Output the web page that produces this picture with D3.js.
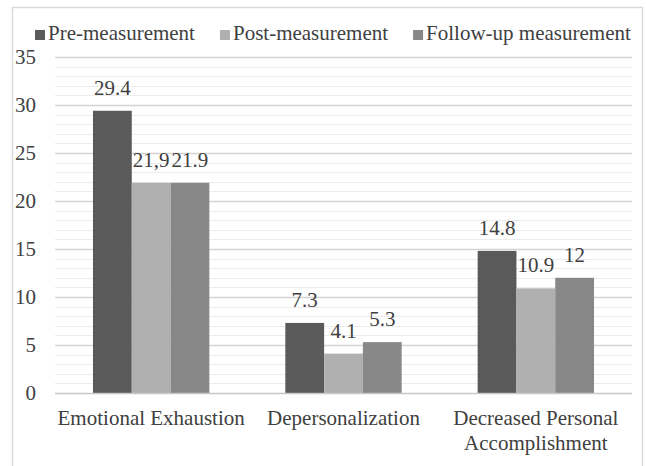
<!DOCTYPE html>
<html>
<head>
<meta charset="utf-8">
<script src="https://cdn.jsdelivr.net/npm/d3@7"></script>
</head>
<body style="margin:0">
<svg id="chart" width="646" height="466" font-family="Liberation Serif"></svg>
<script>
const categories = ["Emotional Exhaustion", "Depersonalization", "Decreased Personal Accomplishment"];
const seriesNames = ["Pre-measurement", "Post-measurement", "Follow-up measurement"];
const preValues = [29.4, 7.3, 14.8];
const postValues = [21.9, 4.1, 10.9];
const followValues = [21.9, 5.3, 12];
const preLabels = ["29.4", "7.3", "14.8"];
const postLabels = ["21,9", "4.1", "10.9"];
const followLabels = ["21.9", "5.3", "12"];
const yTicks = [0, 5, 10, 15, 20, 25, 30, 35];
const colors = ["#5a5a5a", "#b0b0b0", "#888888"];

const series = [
  { name: seriesNames[0], values: preValues, labels: preLabels, color: colors[0] },
  { name: seriesNames[1], values: postValues, labels: postLabels, color: colors[1] },
  { name: seriesNames[2], values: followValues, labels: followLabels, color: colors[2] }
];

const fontSize = 21;
const textColor = "#404040";

const svg = d3.select("#chart");

function styleText(sel) {
  return sel.style("font-family", "'Liberation Serif'").style("font-size", fontSize + "px").attr("fill", textColor);
}

// outer frame
svg.append("rect")
  .attr("x", 12.5).attr("y", 7.5)
  .attr("width", 630).attr("height", 470)
  .attr("fill", "none").attr("stroke", "#d9d9d9").attr("stroke-width", 1.5);

const plot = { left: 55, right: 632, top: 57, bottom: 393 };

const y = d3.scaleLinear().domain([0, 35]).range([plot.bottom, plot.top]);
const x0 = d3.scaleBand().domain(categories).range([plot.left, plot.right]).paddingInner(0).paddingOuter(0);
const groupWidth = x0.bandwidth() * 0.605;
const x1 = d3.scaleBand().domain(d3.range(series.length)).range([0, groupWidth]).padding(0);

// minor gridlines
const minor = d3.range(1, 36).filter(v => v % 5 !== 0);
svg.append("g").selectAll("line").data(minor).join("line")
  .attr("x1", plot.left).attr("x2", plot.right)
  .attr("y1", d => Math.round(y(d)) + 0.5).attr("y2", d => Math.round(y(d)) + 0.5)
  .attr("stroke", "#ececec").attr("stroke-width", 1);

// major gridlines
svg.append("g").selectAll("line").data(yTicks.filter(v => v > 0)).join("line")
  .attr("x1", plot.left).attr("x2", plot.right)
  .attr("y1", d => Math.round(y(d)) + 0.5).attr("y2", d => Math.round(y(d)) + 0.5)
  .attr("stroke", "#d4d4d4").attr("stroke-width", 1.5);

// y axis labels
yTicks.forEach(v => {
  styleText(svg.append("text"))
    .attr("x", 36)
    .attr("y", y(v))
    .attr("dy", "0.34em")
    .attr("text-anchor", "end")
    .text(String(v));
});

// bars
categories.forEach((c, ci) => {
  const gx = x0(c) + (x0.bandwidth() - groupWidth) / 2;
  series.forEach((s, si) => {
    svg.append("rect")
      .attr("x", gx + x1(si))
      .attr("y", y(s.values[ci]))
      .attr("width", x1.bandwidth())
      .attr("height", y(0) - y(s.values[ci]))
      .attr("fill", s.color);
  });
});

// value labels
categories.forEach((c, ci) => {
  const gx = x0(c) + (x0.bandwidth() - groupWidth) / 2;
  series.forEach((s, si) => {
    styleText(svg.append("text"))
      .attr("x", gx + x1(si) + x1.bandwidth() / 2)
      .attr("y", y(s.values[ci]) - 16)
      .attr("text-anchor", "middle")
      .text(s.labels[ci]);
  });
});

// x axis line
svg.append("line")
  .attr("x1", plot.left).attr("x2", plot.right)
  .attr("y1", plot.bottom + 0.5).attr("y2", plot.bottom + 0.5)
  .attr("stroke", "#c8c8c8").attr("stroke-width", 1.5);

// x category labels
const catLines = {
  "Emotional Exhaustion": ["Emotional Exhaustion"],
  "Depersonalization": ["Depersonalization"],
  "Decreased Personal Accomplishment": ["Decreased Personal", "Accomplishment"]
};
categories.forEach(c => {
  const cx = x0(c) + x0.bandwidth() / 2;
  catLines[c].forEach((ln, i) => {
    styleText(svg.append("text"))
      .attr("x", cx)
      .attr("y", plot.bottom + 32 + i * 25)
      .attr("text-anchor", "middle")
      .text(ln);
  });
});

// legend
let lx = 35;
series.forEach((s, i) => {
  svg.append("rect").attr("x", lx).attr("y", 30).attr("width", 10).attr("height", 10).attr("fill", s.color);
  const t = styleText(svg.append("text")).attr("x", lx + 13).attr("y", 40).text(s.name);
  lx += 13 + t.node().getComputedTextLength() + 25;
});
</script>
</body>
</html>
